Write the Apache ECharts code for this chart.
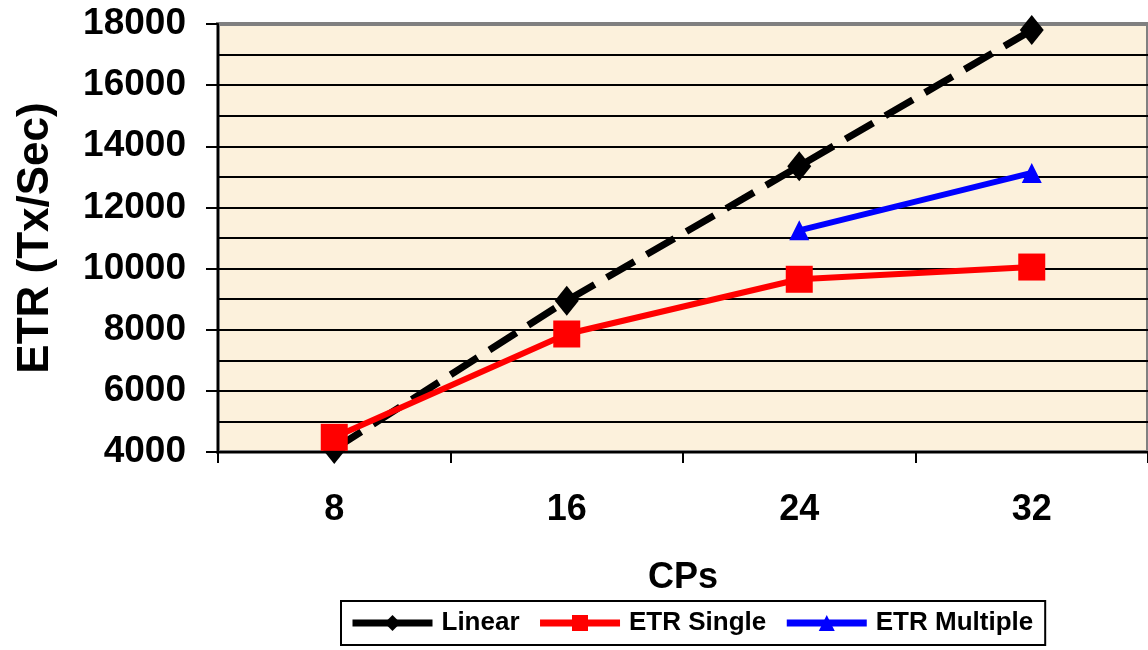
<!DOCTYPE html>
<html lang="en">
<head>
  <meta charset="UTF-8">
  <title>ETR vs CPs</title>
  <script src="https://cdn.jsdelivr.net/npm/echarts@6/dist/echarts.min.js"></script>
  <style>
    html, body { margin: 0; padding: 0; background: #fff; }
    #chart { width: 1148px; height: 650px; }
  </style>
</head>
<body>
  <div id="chart"></div>
  <script>
    // data
    var aCPs = ['8', '16', '24', '32'];
    var aLinear = [4100, 8950, 13350, 17800];
    var aSingle = [4480, 7860, 9650, 10050];
    var aMultiple = [null, null, 11250, 13130];

    var sFont = '"Liberation Sans", Arial, sans-serif';

    var oChart = echarts.init(document.getElementById('chart'));
    var opt = {
      animation: false,
      textStyle: { fontFamily: sFont },
      grid: {
        show: true,
        left: 218,
        right: 0,
        top: 24,
        bottom: 198,
        backgroundColor: '#fcf1dc',
        borderColor: '#808080',
        borderWidth: 4
      },
      legend: {
        left: 341,
        top: 601,
        padding: [9, 12, 9, 8],
        itemWidth: 80,
        itemHeight: 20,
        itemGap: 17,
        borderColor: '#000',
        borderWidth: 2,
        lineStyle: { width: 7, type: 'solid' },
        textStyle: { fontFamily: sFont, fontWeight: 'bold', fontSize: 26, color: '#000', padding: [0, 0, 0, 4] },
        data: ['Linear', 'ETR Single', 'ETR Multiple']
      },
      xAxis: {
        type: 'category',
        data: aCPs,
        boundaryGap: true,
        name: 'CPs',
        nameLocation: 'middle',
        nameGap: 108,
        nameTextStyle: { fontFamily: sFont, fontWeight: 'bold', fontSize: 36, color: '#000' },
        axisLine: { lineStyle: { color: '#000', width: 2 } },
        axisTick: { show: true, interval: 0, length: 11, lineStyle: { color: '#000', width: 2 } },
        axisLabel: { margin: 40, fontFamily: sFont, fontWeight: 'bold', fontSize: 36, color: '#000' },
        splitLine: { show: false }
      },
      yAxis: {
        type: 'value',
        min: 4000,
        max: 18000,
        interval: 2000,
        name: 'ETR (Tx/Sec)',
        nameLocation: 'middle',
        nameRotate: 90,
        nameGap: 160,
        nameTextStyle: { fontFamily: sFont, fontWeight: 'bold', fontSize: 44, color: '#000' },
        axisLine: { show: true, lineStyle: { color: '#000', width: 2 } },
        axisTick: { show: true, length: 12, lineStyle: { color: '#000', width: 2 } },
        axisLabel: {
          margin: 32,
          fontFamily: sFont,
          fontWeight: 'bold',
          fontSize: 37,
          color: '#000',
          formatter: function (v) { return String(v); }
        },
        splitLine: { show: true, showMaxLine: false, lineStyle: { color: '#000', width: 2 } },
        minorTick: { show: false, splitNumber: 2 },
        minorSplitLine: { show: true, lineStyle: { color: '#000', width: 2 } }
      },
      series: [
        {
          name: 'Linear',
          type: 'line',
          data: aLinear,
          symbol: 'diamond',
          symbolSize: [24, 30],
          itemStyle: { color: '#000' },
          lineStyle: { color: '#000', width: 7, type: [32, 14] }
        },
        {
          name: 'ETR Single',
          type: 'line',
          data: aSingle,
          symbol: 'rect',
          symbolSize: 27,
          itemStyle: { color: '#ff0000' },
          lineStyle: { color: '#ff0000', width: 6 }
        },
        {
          name: 'ETR Multiple',
          type: 'line',
          data: aMultiple,
          symbol: 'triangle',
          symbolSize: 20,
          itemStyle: { color: '#0000ff' },
          lineStyle: { color: '#0000ff', width: 6 }
        }
      ]
    };
    oChart.setOption(opt);
  </script>
</body>
</html>
